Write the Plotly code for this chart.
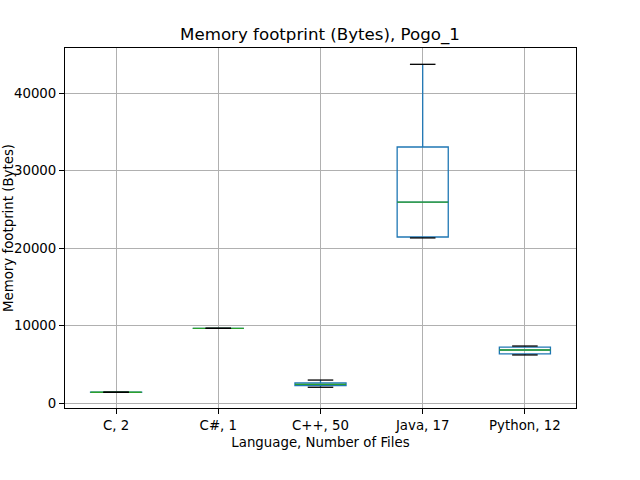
import plotly.graph_objects as go

categories = ["C, 2", "C#, 1", "C++, 50", "Java, 17", "Python, 12"]
positions = [1, 2, 3, 4, 5]
lower_whisker = [1385, 9640, 2030, 21300, 6200]
q1 = [1385, 9640, 2250, 21420, 6330]
median = [1390, 9640, 2400, 25930, 6840]
q3 = [1395, 9640, 2600, 33030, 7220]
upper_whisker = [1395, 9640, 2960, 43700, 7350]
y_ticks = [0, 10000, 20000, 30000, 40000]

box_w = 0.5
cap_w = 0.25
font = "DejaVu Sans"

fig = go.Figure()
fig.add_trace(go.Box(
    x=positions, q1=q1, median=median, q3=q3,
    lowerfence=lower_whisker, upperfence=upper_whisker,
    width=box_w, whiskerwidth=0,
    line=dict(color="#1f77b4", width=1.3),
    fillcolor="rgba(0,0,0,0)", boxpoints=False, showlegend=False,
    hoverinfo="skip",
))

# medians (green)
mx, my = [], []
for p, m in zip(positions, median):
    mx += [p - box_w / 2, p + box_w / 2, None]
    my += [m, m, None]
fig.add_trace(go.Scatter(x=mx, y=my, mode="lines", line=dict(color="#2ca02c", width=1.3),
                         showlegend=False, hoverinfo="skip"))

# caps (black)
cx, cy = [], []
for p, lo, hi in zip(positions, lower_whisker, upper_whisker):
    for v in (lo, hi):
        cx += [p - cap_w / 2, p + cap_w / 2, None]
        cy += [v, v, None]
fig.add_trace(go.Scatter(x=cx, y=cy, mode="lines", line=dict(color="black", width=1.3),
                         showlegend=False, hoverinfo="skip"))

fig.update_layout(
    width=640, height=480,
    margin=dict(l=65, r=64, t=48, b=72),
    paper_bgcolor="white", plot_bgcolor="white",
    font=dict(family=font, size=13.33, color="black"),
    title=dict(text="Memory footprint (Bytes), Pogo_1", x=0.5, xanchor="center",
               y=1 - 34 / 480, yanchor="middle", font=dict(size=16.67, family=font)),
    xaxis=dict(
        range=[0.5, 5.5], tickvals=positions, ticktext=categories,
        showgrid=True, gridcolor="#b0b0b0", gridwidth=0.8,
        showline=True, linecolor="black", linewidth=1, mirror=True,
        ticks="outside", ticklen=5, tickcolor="black", zeroline=False,
        title=dict(text="Language, Number of Files", font=dict(size=13.33), standoff=5),
    ),
    yaxis=dict(
        range=[-645, 45806], tickvals=y_ticks, ticktext=[str(v) for v in y_ticks],
        showgrid=True, gridcolor="#b0b0b0", gridwidth=0.8,
        showline=True, linecolor="black", linewidth=1, mirror=True,
        ticks="outside", ticklen=5, tickcolor="black", zeroline=False,
    ),
    annotations=[dict(
        text="Memory footprint (Bytes)", textangle=-90,
        xref="paper", yref="paper", x=0, y=0.5, xanchor="center", yanchor="middle",
        xshift=-57, showarrow=False, font=dict(size=13.33, family=font),
    )],
)

fig.write_html("out.html")
